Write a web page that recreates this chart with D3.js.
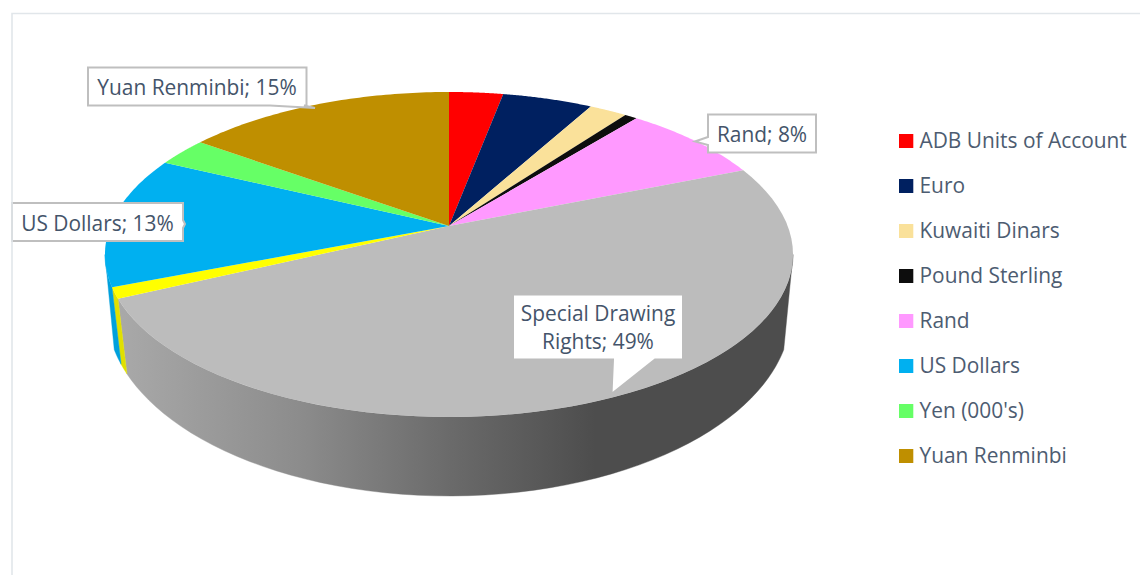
<!DOCTYPE html>
<html>
<head>
<meta charset="utf-8">
<script src="https://cdn.jsdelivr.net/npm/d3@7"></script>
<style>
  html, body { margin: 0; padding: 0; background: #fff; }
  svg { display: block; }
  text { font-family: "Open Sans", sans-serif; fill: #44546a; }
</style>
</head>
<body>
<svg id="chart" width="1140" height="575"></svg>
<script>
// Reserve currency shares, percent of total, clockwise from twelve o'clock
const categories = ["ADB Units of Account", "Euro", "Kuwaiti Dinars", "Pound Sterling", "Rand",
                    "Special Drawing Rights", "Other", "US Dollars", "Yen (000's)", "Yuan Renminbi"];
const shares = [3, 5, 2.1, 0.7, 8, 49, 1.1, 13, 2.85, 15];
const sliceColors = ["#ff0000", "#002060", "#fae19a", "#0d0d0d", "#ff99ff",
                     "#bcbcbc", "#ffff00", "#00b0f0", "#66ff66", "#bf8f00"];
const legendCategories = ["ADB Units of Account", "Euro", "Kuwaiti Dinars", "Pound Sterling",
                          "Rand", "US Dollars", "Yen (000's)", "Yuan Renminbi"];

const svg = d3.select("#chart");
const colorOf = d3.scaleOrdinal(categories, sliceColors);

// Perspective disc: the hub sits above the centre of the rim's ellipse
const hub = { x: 449, y: 226 };
const tilt = 0.1753, spanX = 338.7, spanY = 157.5;
function topPoint(theta) {
  const u = Math.sin(theta), v = Math.cos(theta), w = 1 + tilt * v;
  return [hub.x + spanX * u / w, hub.y - spanY * v / w];
}
// The lower rim of the wall is a rounder ellipse, drawn in slightly towards the axis
const lower = { cy: 312, rx: 342, ry: 184, pinch: 0.973 };
function bottomPoint(theta) {
  const x = (topPoint(theta)[0] - hub.x) * lower.pinch;
  const t = Math.min(1, Math.abs(x) / lower.rx);
  return [hub.x + x, lower.cy + lower.ry * Math.sqrt(1 - t * t)];
}

const samples = (a0, a1) => d3.range(0, 61).map(i => a0 + (a1 - a0) * i / 60);
const outline = d3.line();
const pieLayout = d3.pie().sort(null).value(d => d.share)
  .startAngle(0).endAngle(2 * Math.PI);
const arcs = pieLayout(categories.map((name, i) => ({ name, share: shares[i] })));

// Grey wall shading runs left to right, then holds at its darkest
const defs = svg.append("defs");
const wallShade = defs.append("linearGradient").attr("id", "wallShade")
  .attr("gradientUnits", "userSpaceOnUse")
  .attr("x1", 118).attr("x2", 595).attr("y1", 0).attr("y2", 0);
wallShade.append("stop").attr("offset", 0).attr("stop-color", "#a9a9a9");
wallShade.append("stop").attr("offset", 0.38).attr("stop-color", "#8c8c8c");
wallShade.append("stop").attr("offset", 0.7).attr("stop-color", "#6a6a6a");
wallShade.append("stop").attr("offset", 1).attr("stop-color", "#4d4d4d");

const wallColors = { "Special Drawing Rights": "url(#wallShade)", "Other": "#e0e000", "US Dollars": "#00a0dc" };

// Visible wall spans the front of the disc, between its left and right extremes
const frontStart = Math.acos(-tilt), frontEnd = 2 * Math.PI - frontStart;
arcs.forEach(a => {
  const a0 = Math.max(a.startAngle, frontStart), a1 = Math.min(a.endAngle, frontEnd);
  if (a1 <= a0) return;
  const along = samples(a0, a1);
  const ring = along.map(topPoint).concat(along.slice().reverse().map(bottomPoint));
  svg.append("path").attr("d", outline(ring) + "Z")
    .attr("fill", wallColors[a.data.name]).attr("stroke", wallColors[a.data.name]).attr("stroke-width", 0.4);
});

// Top faces
arcs.forEach(a => {
  const ring = [[hub.x, hub.y]].concat(samples(a.startAngle, a.endAngle).map(topPoint));
  svg.append("path").attr("d", outline(ring) + "Z")
    .attr("fill", colorOf(a.data.name));
});

// Callouts: rectangle with a pointer
function callout(box, tail, lines, stroke) {
  const path = d3.path();
  path.moveTo(box.x0, box.y0);
  path.lineTo(box.x1, box.y0);
  if (tail.side === "right") { path.lineTo(box.x1, tail.a); path.lineTo(tail.tx, tail.ty); path.lineTo(box.x1, tail.b); }
  path.lineTo(box.x1, box.y1);
  if (tail.side === "bottom") { path.lineTo(tail.b, box.y1); path.lineTo(tail.tx, tail.ty); path.lineTo(tail.a, box.y1); }
  path.lineTo(box.x0, box.y1);
  if (tail.side === "left") { path.lineTo(box.x0, tail.b); path.lineTo(tail.tx, tail.ty); path.lineTo(box.x0, tail.a); }
  path.closePath();
  svg.append("path").attr("d", path.toString())
    .attr("fill", "#fff").attr("stroke", stroke).attr("stroke-width", 2);
  lines.forEach(l => svg.append("text")
    .attr("x", l.x).attr("y", l.y).attr("text-anchor", "middle")
    .attr("font-size", 20.9).text(l.t));
}
const labelFor = name => `${name}; ${shares[categories.indexOf(name)]}%`;

callout({ x0: 88, y0: 67.5, x1: 306.5, y1: 105.5 },
        { side: "bottom", a: 270, b: 304, tx: 315, ty: 108 },
        [{ x: 197, y: 95, t: labelFor("Yuan Renminbi") }], "#bfbfbf");
callout({ x0: 12, y0: 203, x1: 183, y1: 241 },
        { side: "right", a: 220, b: 228, tx: 185, ty: 224 },
        [{ x: 97.5, y: 231, t: labelFor("US Dollars") }], "#bfbfbf");
callout({ x0: 708, y0: 114.5, x1: 816, y1: 152.5 },
        { side: "left", a: 137, b: 145, tx: 695, ty: 141.5 },
        [{ x: 762, y: 142, t: labelFor("Rand") }], "#bfbfbf");
callout({ x0: 513, y0: 294.5, x1: 683, y1: 359.5 },
        { side: "bottom", a: 613, b: 655, tx: 611.5, ty: 394 },
        [{ x: 598, y: 321, t: "Special Drawing" },
         { x: 598, y: 349, t: `Rights; ${shares[categories.indexOf("Special Drawing Rights")]}%` }],
        "#bcbcbc");

// Legend
const legendY = d3.scalePoint().domain(legendCategories).range([141, 456]);
const legend = svg.append("g").selectAll("g").data(legendCategories).join("g")
  .attr("transform", d => `translate(899,${legendY(d)})`);
legend.append("rect").attr("x", 0).attr("y", -7).attr("width", 14.3).attr("height", 14)
  .attr("fill", d => colorOf(d));
legend.append("text").attr("x", 20.5).attr("y", 7)
  .attr("font-size", 20.9).attr("opacity", 0.95).text(d => d);

// Chart area frame: top and left edges only
svg.append("path").attr("d", "M12,575V13.5H1140").attr("fill", "none")
  .attr("stroke", "#e1e6ea").attr("stroke-width", 1.6);
</script>
</body>
</html>
